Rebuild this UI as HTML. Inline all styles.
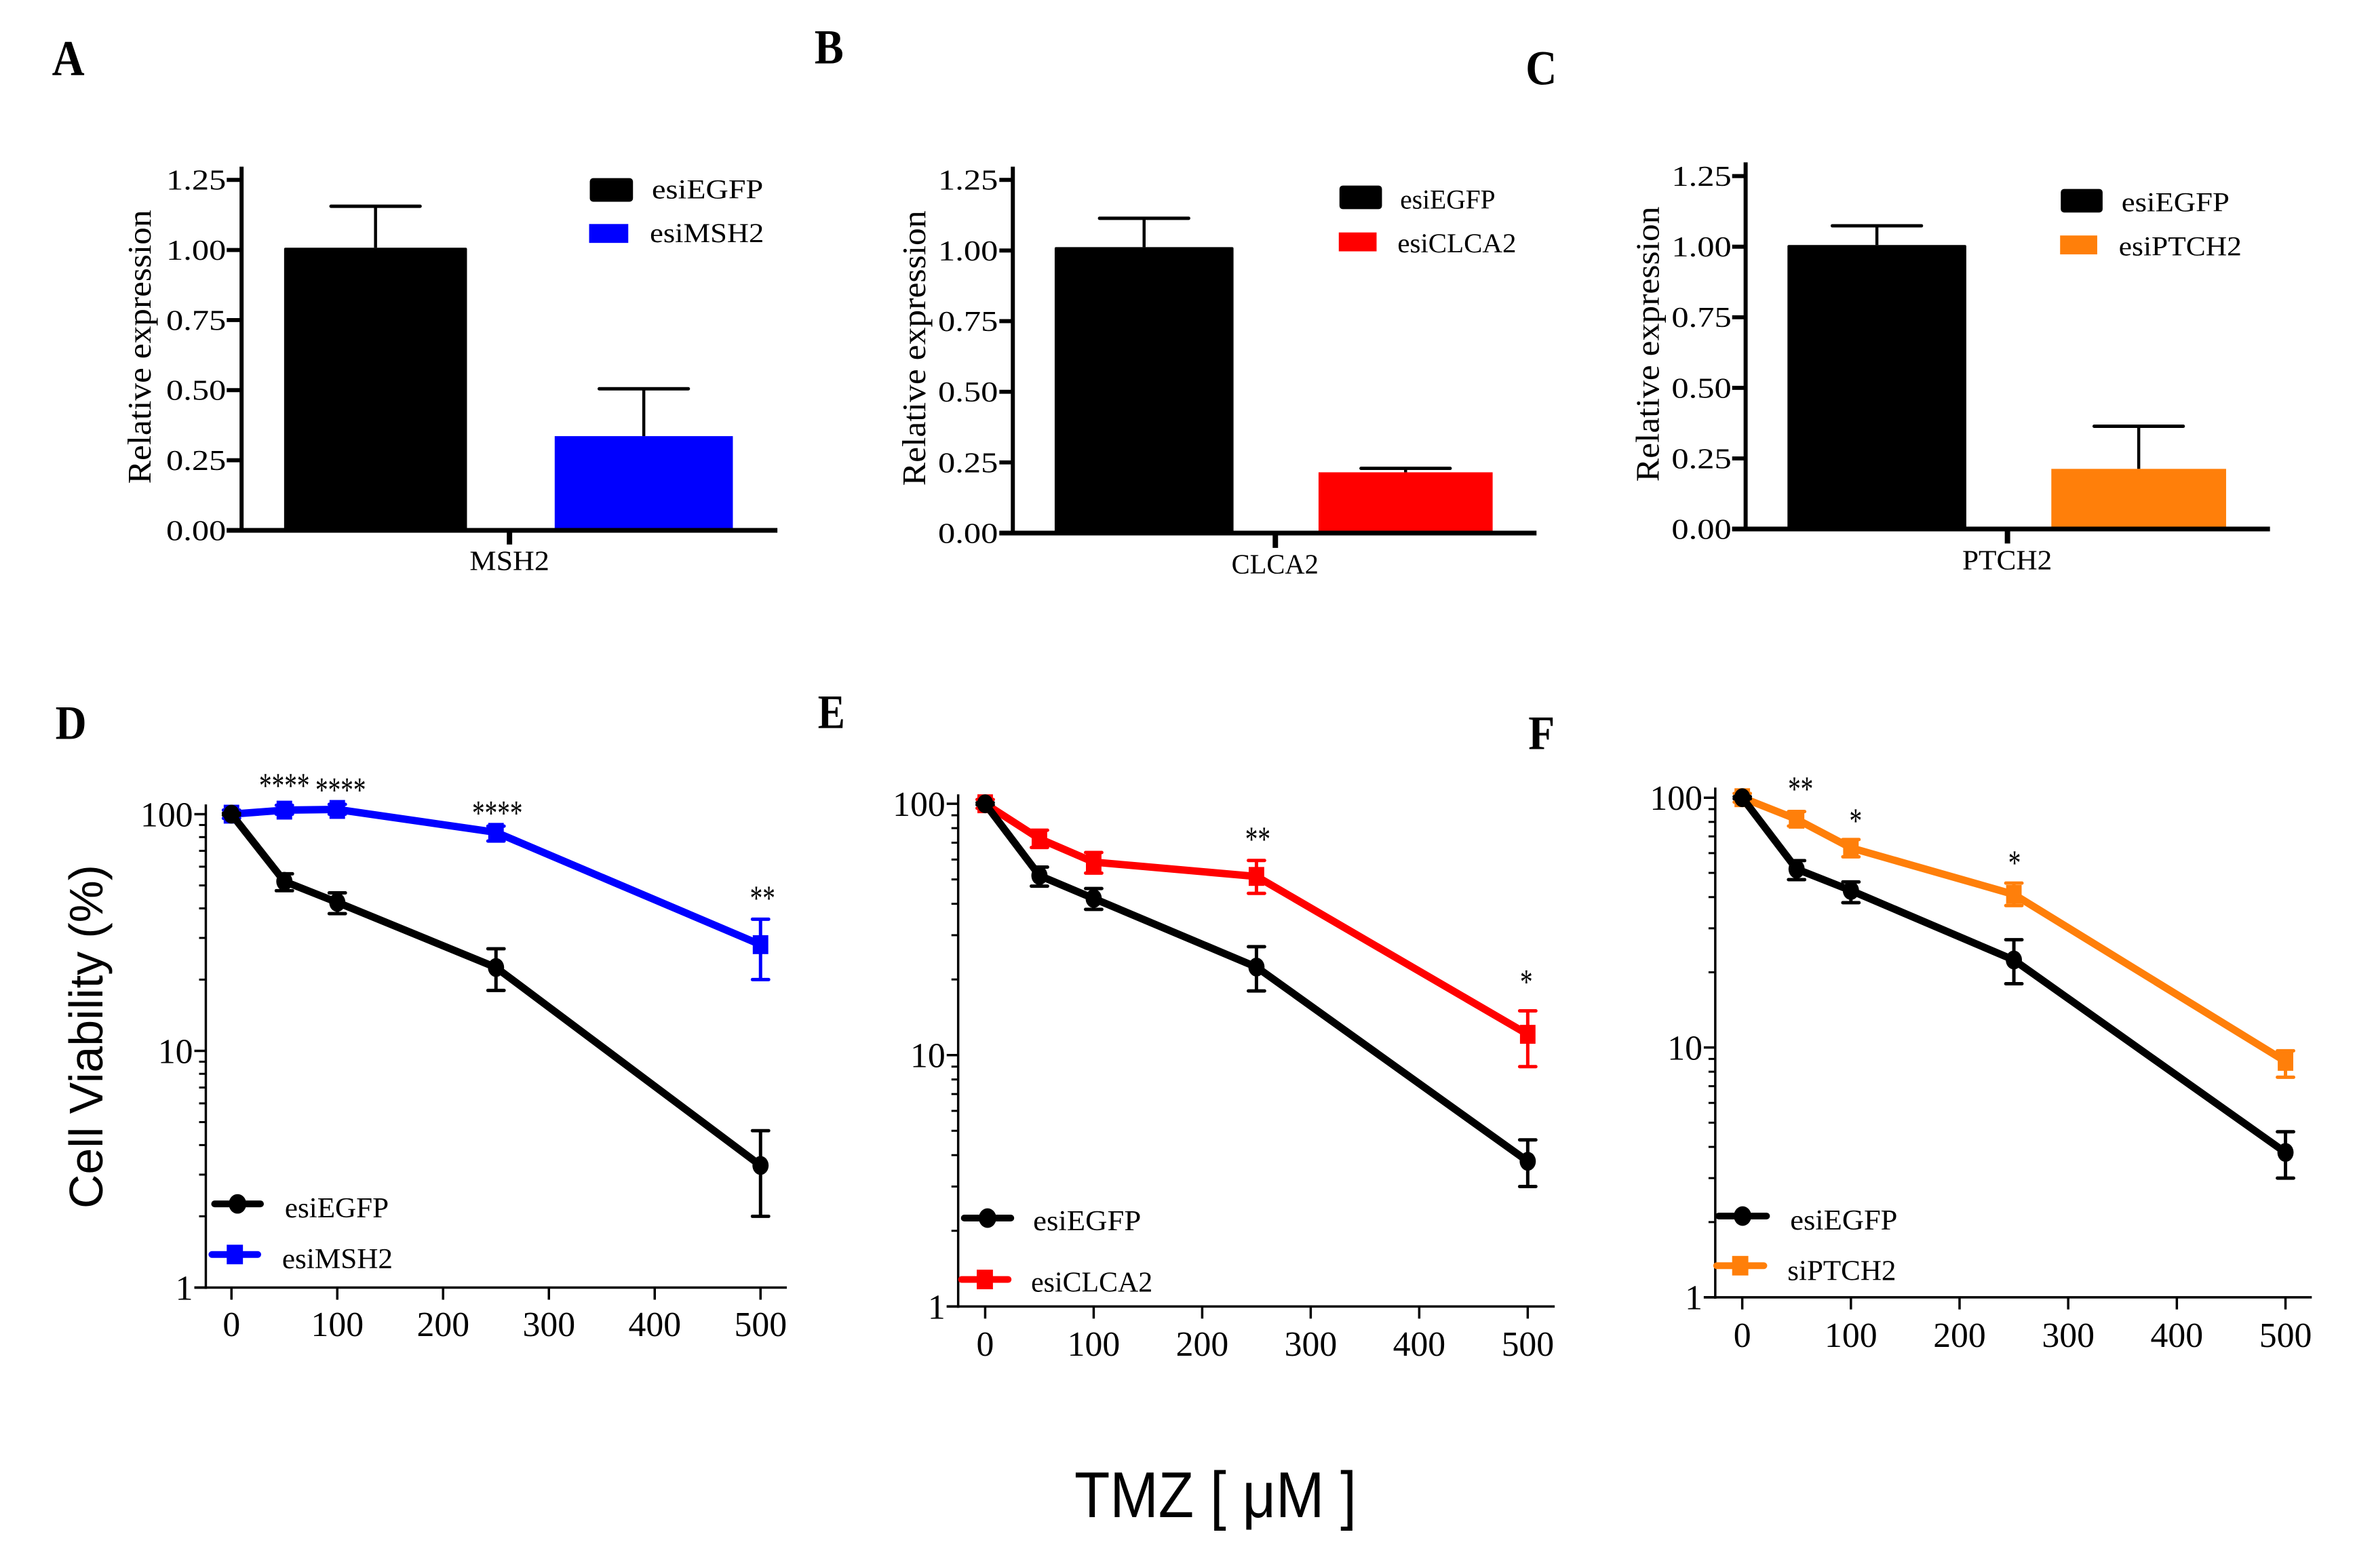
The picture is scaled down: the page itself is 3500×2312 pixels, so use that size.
<!DOCTYPE html>
<html lang="en">
<head>
<meta charset="utf-8">
<title>Relative expression and cell viability panels</title>
<style>
html,body{margin:0;padding:0;background:#fff;}
svg{display:block;}
text{font-family:"Liberation Serif",serif;fill:#000;}
</style>
</head>
<body>
<svg id="figure" xmlns="http://www.w3.org/2000/svg" width="3500" height="2312" viewBox="0 0 3500 2312">
  <rect x="0" y="0" width="3500" height="2312" fill="#ffffff"/>
  <g font-weight="700">
    <text x="76.6" y="110.4" font-size="74" textLength="48" lengthAdjust="spacingAndGlyphs">A</text>
    <text x="1200.7" y="93.5" font-size="72" textLength="43" lengthAdjust="spacingAndGlyphs">B</text>
    <text x="2249.3" y="124.4" font-size="72" textLength="46" lengthAdjust="spacingAndGlyphs">C</text>
    <text x="81.6" y="1089.6" font-size="71" textLength="46" lengthAdjust="spacingAndGlyphs">D</text>
    <text x="1205.7" y="1073.7" font-size="71" textLength="40" lengthAdjust="spacingAndGlyphs">E</text>
    <text x="2253.3" y="1104.6" font-size="71" textLength="39" lengthAdjust="spacingAndGlyphs">F</text>
  </g>
  <text transform="translate(151.2,1782) rotate(-90)" style="font-family:'Liberation Sans',sans-serif" font-size="70" textLength="507" lengthAdjust="spacingAndGlyphs">Cell Viability (%)</text>
  <text x="1584" y="2237" style="font-family:'Liberation Sans',sans-serif" font-size="96" textLength="416" lengthAdjust="spacingAndGlyphs">TMZ [ μM ]</text>
  <g id="panel-a" transform="scale(0.9949)"></g>
  <g id="panel-b" transform="translate(1150,0) scale(0.9949) translate(-1150,0)"></g>
  <g id="panel-c" transform="translate(2300,0) scale(0.9949) translate(-2300,0)"></g>
  <g id="panel-d" transform="translate(0,1020) scale(0.9949) translate(0,-1020)"></g>
  <g id="panel-e" transform="translate(1150,1020) scale(0.9949) translate(-1150,-1020)"></g>
  <g id="panel-f" transform="translate(2300,1020) scale(0.9949) translate(-2300,-1020)"></g>
</svg>
<script>
/* ---------- bar chart data ---------- */
const barTickValues = [0, 0.25, 0.5, 0.75, 1, 1.25];
const barTickLabels = ['0.00', '0.25', '0.50', '0.75', '1.00', '1.25'];

const panelAGene = 'MSH2';
const panelAGroups = ['esiEGFP', 'esiMSH2'];
const panelAMeans = [1.008, 0.336];
const panelAErrors = [0.148, 0.169];

const panelBGene = 'CLCA2';
const panelBGroups = ['esiEGFP', 'esiCLCA2'];
const panelBMeans = [1.012, 0.215];
const panelBErrors = [0.102, 0.014];

const panelCGene = 'PTCH2';
const panelCGroups = ['esiEGFP', 'esiPTCH2'];
const panelCMeans = [1.006, 0.213];
const panelCErrors = [0.068, 0.151];

/* ---------- dose response data ---------- */
const doses = [0, 50, 100, 250, 500];
const xTickValues = [0, 100, 200, 300, 400, 500];
const xTickLabels = ['0', '100', '200', '300', '400', '500'];
const yMajorValues = [1, 10, 100];
const yMajorLabels = ['1', '10', '100'];
const yMinorValues = [2, 3, 4, 5, 6, 7, 8, 9, 20, 30, 40, 50, 60, 70, 80, 90];

const panelDControlName = 'esiEGFP';
const panelDControl = [100, 52, 42.4, 22.5, 3.28];
const panelDControlHigh = [101, 56, 46.5, 27, 4.6];
const panelDControlLow = [99, 47.5, 38, 18, 2.0];
const panelDTreatedName = 'esiMSH2';
const panelDTreated = [100, 104, 104.7, 83.8, 28.1];
const panelDTreatedHigh = [104, 109, 110, 89, 36];
const panelDTreatedLow = [96, 100, 100, 77, 20];
const panelDStarDoses = [50, 100, 250, 500];
const panelDStarLabels = ['****', '****', '****', '**'];
const panelDStarLevels = [118, 112.8, 90.3, 39.5];

const panelEControlName = 'esiEGFP';
const panelEControl = [100, 51.8, 42, 22.4, 3.78];
const panelEControlHigh = [101, 56, 46, 27, 4.6];
const panelEControlLow = [99, 47, 38, 18, 3.0];
const panelETreatedName = 'esiCLCA2';
const panelETreated = [100, 72.6, 58.6, 51.4, 12.1];
const panelETreatedHigh = [104, 78.5, 64, 59.5, 15];
const panelETreatedLow = [96, 67, 53, 44, 9];
const panelEStarDoses = [250, 500];
const panelEStarLabels = ['**', '*'];
const panelEStarLevels = [64.9, 17.6];

const panelFControlName = 'esiEGFP';
const panelFControl = [100, 51.8, 42.5, 22.4, 3.8];
const panelFControlHigh = [101, 56, 46, 27, 4.6];
const panelFControlLow = [99, 47, 38, 18, 3.0];
const panelFTreatedName = 'siPTCH2';
const panelFTreated = [100, 82, 63, 41, 8.8];
const panelFTreatedHigh = [104, 88, 68, 45.5, 9.7];
const panelFTreatedLow = [96, 77, 58, 37, 7.6];
const panelFStarDoses = [50, 100, 250];
const panelFStarLabels = ['**', '*', '*'];
const panelFStarLevels = [97.4, 72.5, 49.2];

/* ---------- helpers ---------- */
const SVG_NS = 'http://www.w3.org/2000/svg';
function mk(tag, attrs, parent) {
  const node = document.createElementNS(SVG_NS, tag);
  for (const key in attrs) node.setAttribute(key, attrs[key]);
  parent.appendChild(node);
  return node;
}
function line(parent, x1, y1, x2, y2, color, width, cap) {
  return mk('line', {x1: x1, y1: y1, x2: x2, y2: y2, stroke: color, 'stroke-width': width, 'stroke-linecap': cap || 'butt'}, parent);
}
function scaledText(parent, str, x, y, size, sx, anchor) {
  const t = mk('text', {transform: 'translate(' + x + ',' + y + ') scale(' + sx + ',1)', 'font-size': size, 'text-anchor': anchor}, parent);
  t.textContent = str;
  return t;
}
function fitText(parent, str, x, y, size, len, rotated) {
  const attrs = {'font-size': size, textLength: len, lengthAdjust: 'spacingAndGlyphs'};
  if (rotated) attrs.transform = 'translate(' + x + ',' + y + ') rotate(-90)';
  else { attrs.x = x; attrs.y = y; }
  const t = mk('text', attrs, parent);
  t.textContent = str;
  return t;
}

/* ---------- bar panels ---------- */
function drawBarPanel(id, layout, gene, groups, means, errors, colors) {
  const g = document.getElementById(id);
  const yScale = function (v) { return layout.yZero - v * (layout.yZero - layout.yMax) / 1.25; };

  means.forEach(function (mean, i) {
    const stem = line(g, layout.centers[i], yScale(mean), layout.centers[i], yScale(mean + errors[i]), '#000', 4.5);
    
    
    const cap = line(g, layout.centers[i] - 66, yScale(mean + errors[i]), layout.centers[i] + 66, yScale(mean + errors[i]), '#000', 5, 'round');
    
    
    const bar = mk('rect', {x: layout.centers[i] - layout.widths[i] / 2, y: yScale(mean), width: layout.widths[i], height: yScale(0) - yScale(mean), fill: colors[i], rx: i === 0 ? 2 : 0}, g);
    
    
  });

  const yAxis = line(g, layout.axisX, layout.axisTop, layout.axisX, layout.yZero + 3, '#000', 6);
  
  
  const xAxis = line(g, layout.tickLeft, layout.yZero, layout.xEnd, layout.yZero, '#000', 7);
  
  
  const xTick = line(g, layout.geneX, layout.yZero, layout.geneX, layout.tickBottom, '#000', 8);
  
  
  const geneLabel = fitText(g, gene, layout.geneTextX, layout.geneBaseline, 41, layout.geneTextLen);
  
  

  barTickValues.forEach(function (v, i) {
    const tick = line(g, layout.tickLeft, yScale(v), layout.axisX, yScale(v), '#000', 6);
    
    
    const label = scaledText(g, barTickLabels[i], layout.labelRight, yScale(v) + 14.5, 43, 1.18, 'end');
    
    
  });

  const title = fitText(g, 'Relative expression', layout.titleX, layout.titleY, 49, layout.titleLen, true);
  
  

  const swatch0 = mk('rect', {x: layout.sw0[0], y: layout.sw0[1], width: layout.sw0[2], height: layout.sw0[3], rx: 5, fill: colors[0]}, g);
  
  
  const swatch1 = mk('rect', {x: layout.sw1[0], y: layout.sw1[1], width: layout.sw1[2], height: layout.sw1[3], fill: colors[1]}, g);
  
  
  const legend0 = fitText(g, groups[0], layout.lt0[0], layout.lt0[1], 40, layout.lt0[2]);
  
  
  const legend1 = fitText(g, groups[1], layout.lt1[0], layout.lt1[1], 40, layout.lt1[2]);
  
  
}

drawBarPanel('panel-a', {
  yZero: 786, yMax: 266.6, axisX: 358, axisTop: 247, tickLeft: 336, xEnd: 1152,
  geneX: 755, tickBottom: 807, geneTextX: 696, geneBaseline: 845, geneTextLen: 118,
  labelRight: 335, titleX: 223, titleY: 717, titleLen: 406,
  centers: [556.5, 954], widths: [271, 264],
  sw0: [874, 264, 64, 35], sw1: [873, 332, 58, 28],
  lt0: [966, 294, 165], lt1: [963, 359, 169]
}, panelAGene, panelAGroups, panelAMeans, panelAErrors, ['#000000', '#0000ff']);

drawBarPanel('panel-b', {
  yZero: 790, yMax: 266.6, axisX: 1495, axisTop: 247, tickLeft: 1475, xEnd: 2271,
  geneX: 1884, tickBottom: 812, geneTextX: 1819, geneBaseline: 850, geneTextLen: 129,
  labelRight: 1473, titleX: 1365, titleY: 720, titleLen: 408,
  centers: [1689.5, 2077], widths: [265, 258],
  sw0: [1979, 275, 63, 35], sw1: [1978, 344.5, 56, 28],
  lt0: [2069, 309, 141], lt1: [2065, 374, 176]
}, panelBGene, panelBGroups, panelBMeans, panelBErrors, ['#000000', '#ff0000']);

drawBarPanel('panel-c', {
  yZero: 784, yMax: 261, axisX: 2575, axisTop: 240.6, tickLeft: 2555, xEnd: 3352,
  geneX: 2963, tickBottom: 805.5, geneTextX: 2896, geneBaseline: 844, geneTextLen: 133,
  labelRight: 2554, titleX: 2446, titleY: 714, titleLen: 408,
  centers: [2769.5, 3157.5], widths: [265, 259],
  sw0: [3042, 280, 62, 35], sw1: [3041, 349, 55, 28],
  lt0: [3132, 313, 160], lt1: [3128, 378.5, 182]
}, panelCGene, panelCGroups, panelCMeans, panelCErrors, ['#000000', '#ff7f0a']);

/* ---------- dose response panels ---------- */
function drawSeries(g, xs, ys, ysHigh, ysLow, color, isSquare) {
  const pts = xs.map(function (x, i) { return x + ',' + ys[i]; }).join(' ');
  const path = mk('polyline', {points: pts, fill: 'none', stroke: color, 'stroke-width': 11, 'stroke-linejoin': 'round'}, g);
  
  
  xs.forEach(function (x, i) {
    const stem = line(g, x, ysHigh[i], x, ysLow[i], color, 5);
    
    
    const capHigh = line(g, x - 12, ysHigh[i], x + 12, ysHigh[i], color, 5, 'round');
    
    
    const capLow = line(g, x - 12, ysLow[i], x + 12, ysLow[i], color, 5, 'round');
    
    
    let marker;
    if (isSquare) marker = mk('rect', {x: x - 11.5, y: ys[i] - 14, width: 23, height: 28, fill: color}, g);
    else marker = mk('ellipse', {cx: x, cy: ys[i], rx: 12, ry: 14, fill: color}, g);
    
    
  });
}

function drawLogPanel(id, layout, control, controlHigh, controlLow, controlName,
                      treated, treatedHigh, treatedLow, treatedName, color,
                      starDoses, starLabels, starLevels) {
  const g = document.getElementById(id);
  const xScale = function (v) { return layout.x0 + v * (layout.x500 - layout.x0) / 500; };
  const yScale = function (v) { return layout.y100 + (2 - Math.log10(v)) * (layout.y1 - layout.y100) / 2; };

  const yAxis = line(g, layout.axisX, layout.axisTop, layout.axisX, layout.y1 + 2, '#000', 3.5);
  
  
  const xAxis = line(g, layout.axisX - 17, layout.y1, layout.xEnd, layout.y1, '#000', 3.5);
  
  

  yMajorValues.forEach(function (v, i) {
    const tick = line(g, layout.axisX - 17, yScale(v), layout.axisX, yScale(v), '#000', 3.5);
    
    
    const label = scaledText(g, yMajorLabels[i], layout.axisX - 19, yScale(v) + 18, 52, 1, 'end');
    
    
  });
  yMinorValues.forEach(function (v) {
    const tick = line(g, layout.axisX - 10, yScale(v), layout.axisX, yScale(v), '#000', 3);
    
    
  });
  xTickValues.forEach(function (v, i) {
    const tick = line(g, xScale(v), layout.y1, xScale(v), layout.y1 + 18, '#000', 3.5);
    
    
    const label = scaledText(g, xTickLabels[i], xScale(v), layout.xLabelBaseline, 52, 1, 'middle');
    
    
  });

  const xs = doses.map(xScale);
  drawSeries(g, xs, treated.map(yScale), treatedHigh.map(yScale), treatedLow.map(yScale), color, true);
  drawSeries(g, xs, control.map(yScale), controlHigh.map(yScale), controlLow.map(yScale), '#000000', false);

  starDoses.forEach(function (d, i) {
    const star = scaledText(g, starLabels[i], xScale(d) + layout.starDx[i], yScale(starLevels[i]), 52, 0.72, 'middle');
    
    
  });

  const ctrlLine = line(g, layout.leg0[0], layout.leg0[2], layout.leg0[1], layout.leg0[2], '#000', 10, 'round');
  
  
  const ctrlMark = mk('ellipse', {cx: (layout.leg0[0] + layout.leg0[1]) / 2, cy: layout.leg0[2], rx: 13, ry: 14.5, fill: '#000'}, g);
  
  
  const ctrlText = fitText(g, controlName, layout.legText0[0], layout.legText0[1], 43, layout.legText0[2]);
  
  

  const trtLine = line(g, layout.leg1[0], layout.leg1[2], layout.leg1[1], layout.leg1[2], color, 10, 'round');
  
  
  const trtMark = mk('rect', {x: (layout.leg1[0] + layout.leg1[1]) / 2 - 12, y: layout.leg1[2] - 14.5, width: 24, height: 29, fill: color}, g);
  
  
  const trtText = fitText(g, treatedName, layout.legText1[0], layout.legText1[1], 43, layout.legText1[2]);
  
  
}

drawLogPanel('panel-d', {
  x0: 343, x500: 1127, y100: 1201.4, y1: 1903, axisX: 305, axisTop: 1187, xEnd: 1166,
  xLabelBaseline: 1975, starDx: [0, 5, 2, 3],
  leg0: [318, 386, 1779], leg1: [314, 382, 1854],
  legText0: [422, 1799, 154], legText1: [418, 1874.5, 164]
}, panelDControl, panelDControlHigh, panelDControlLow, panelDControlName,
   panelDTreated, panelDTreatedHigh, panelDTreatedLow, panelDTreatedName, '#0000ff',
   panelDStarDoses, panelDStarLabels, panelDStarLevels);

drawLogPanel('panel-e', {
  x0: 1454, x500: 2258, y100: 1186, y1: 1931, axisX: 1414, axisTop: 1172, xEnd: 2298,
  xLabelBaseline: 2004, starDx: [2, -2],
  leg0: [1423, 1492, 1800], leg1: [1419, 1488, 1891],
  legText0: [1525, 1818, 160], legText1: [1522, 1909, 180]
}, panelEControl, panelEControlHigh, panelEControlLow, panelEControlName,
   panelETreated, panelETreatedHigh, panelETreatedLow, panelETreatedName, '#ff0000',
   panelEStarDoses, panelEStarLabels, panelEStarLevels);

drawLogPanel('panel-f', {
  x0: 2570, x500: 3375, y100: 1177, y1: 1917.4, axisX: 2530, axisTop: 1162, xEnd: 3414,
  xLabelBaseline: 1991, starDx: [6, 7, 1],
  leg0: [2535, 2606, 1797], leg1: [2532, 2602, 1870.6],
  legText0: [2641, 1817, 159], legText1: [2637, 1892, 161]
}, panelFControl, panelFControlHigh, panelFControlLow, panelFControlName,
   panelFTreated, panelFTreatedHigh, panelFTreatedLow, panelFTreatedName, '#ff7f0a',
   panelFStarDoses, panelFStarLabels, panelFStarLevels);
</script>
</body>
</html>
